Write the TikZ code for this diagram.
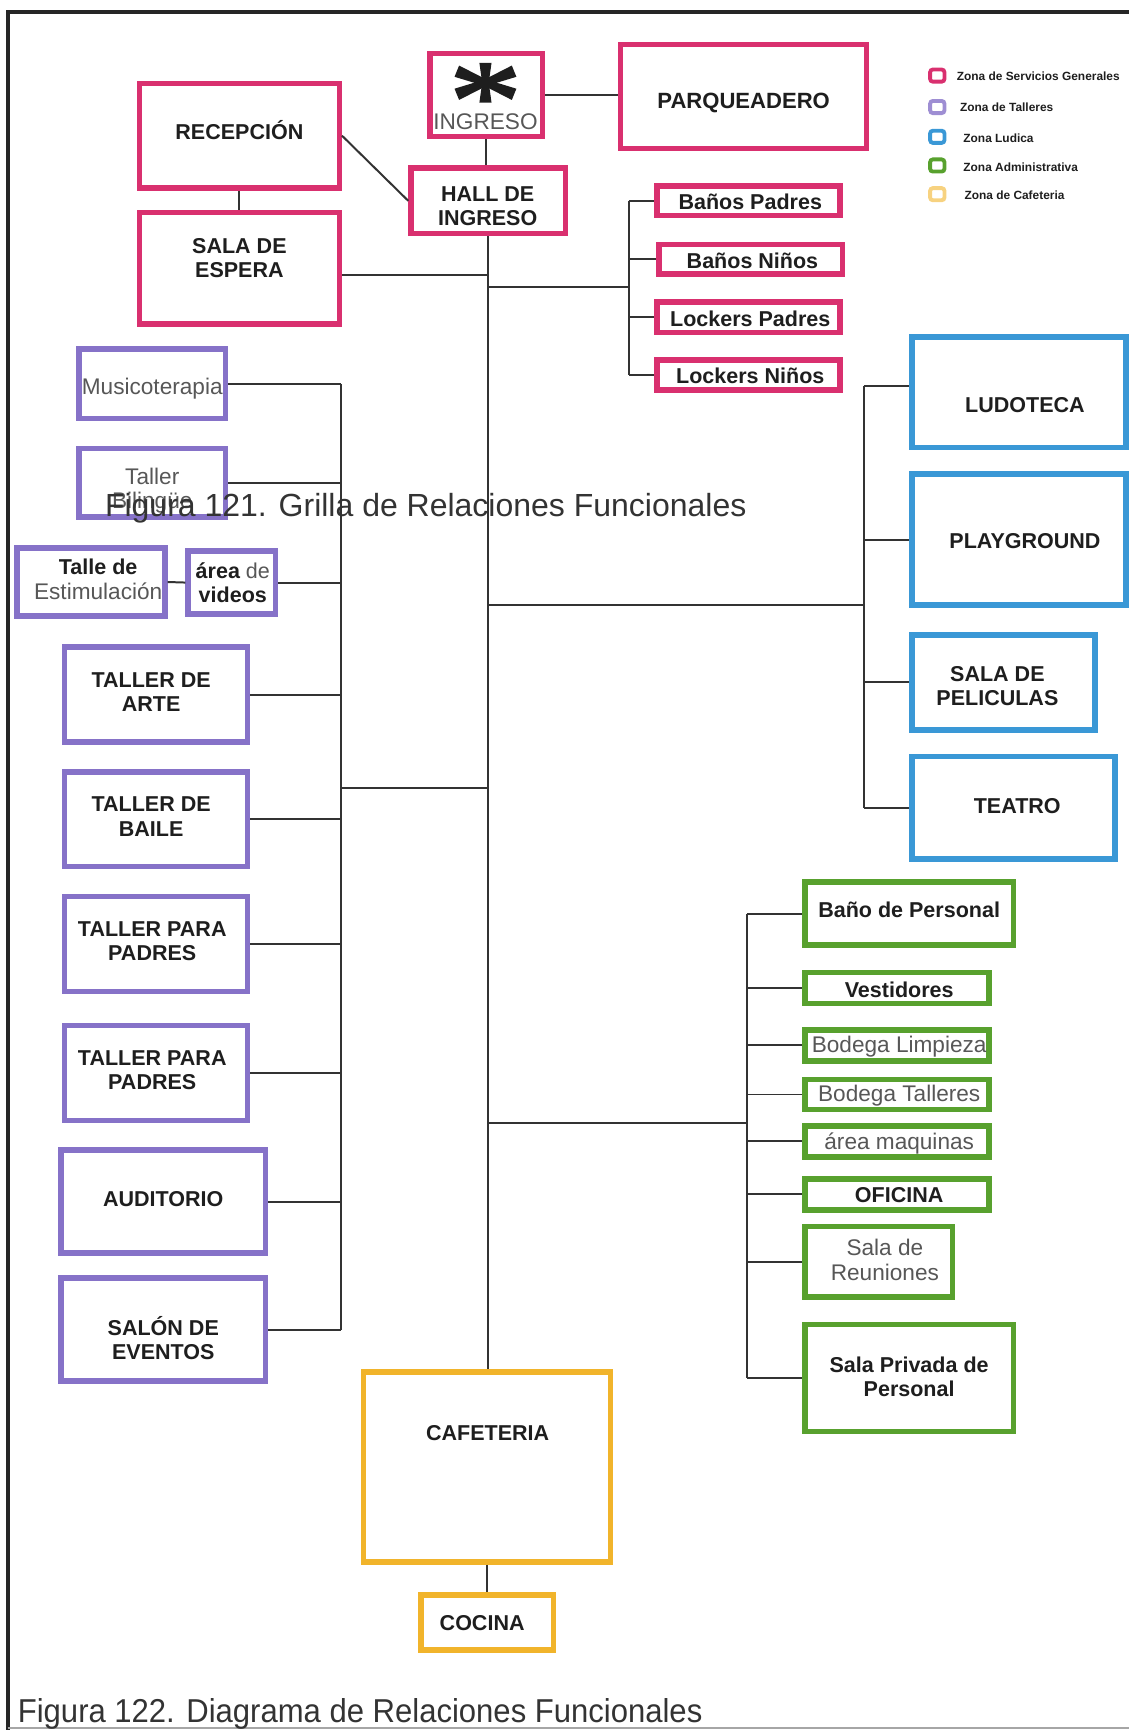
\documentclass[tikz,border=0pt]{standalone}
\usepackage{fontspec}
\setmainfont{Liberation Sans}
\usetikzlibrary{calc}
\definecolor{zpink}{HTML}{D9306F}
\definecolor{zpurple}{HTML}{8672C8}
\definecolor{zblue}{HTML}{3A98D6}
\definecolor{zgreen}{HTML}{58A12E}
\definecolor{zyellow}{HTML}{F1B42B}
\definecolor{conn}{HTML}{333333}
\definecolor{framec}{HTML}{262626}
\definecolor{txtdark}{HTML}{1E1E1E}
\definecolor{txtgray}{HTML}{575757}
\tikzset{
  zb/.style={draw=#1, line width=5pt, outer sep=2.5pt, inner sep=0pt, rectangle},
  cn/.style={draw=conn, line width=1.8pt},
  tb/.style={font=\fontsize{19.5}{22}\selectfont\bfseries, text=txtdark, align=center, inner sep=0pt},
  tg/.style={font=\fontsize{20.5}{22}\selectfont, text=txtgray, align=center, inner sep=0pt},
  lg/.style={draw=#1, line width=3.5pt, rounded corners=2.5pt, minimum width=13pt, minimum height=11pt, inner sep=0pt, outer sep=0pt},
  lt/.style={font=\fontsize{10.8}{12}\selectfont\bfseries, text=txtdark, anchor=west, inner sep=0pt},
  capt/.style={font=\fontsize{29}{32}\selectfont, text=conn, inner sep=0pt},
}
\newcommand{\zonebox}[6]{\node[zb=#1, anchor=north west, minimum width={#5-#3-5}, minimum height={#6-#4-5}] (#2) at (#3,#4) {};}
\begin{document}
\begin{tikzpicture}[x=1pt,y=-1pt]
\useasboundingbox (0,0) rectangle (1023,1568);
% frame
\draw[framec, line width=3.5pt] (7,1568) -- (7,11) -- (1023,11);
\draw[gray!70, line width=1.5pt] (7,1566) -- (1023,1566);

% pink zone
\zonebox{zpink}{ingreso}{387}{46}{494}{126}
\zonebox{zpink}{parq}{560}{38}{788}{137}
\zonebox{zpink}{recep}{124}{73}{310}{173}
\zonebox{zpink}{espera}{124}{190}{310}{296}
\zonebox{zpink}{hall}{370}{150}{515}{214}
\zonebox{zpink}{banp}{593}{166}{764}{198}
\zonebox{zpink}{bann}{595}{219}{766}{251}
\zonebox{zpink}{lockp}{593}{271}{764}{304}
\zonebox{zpink}{lockn}{593}{324}{764}{356}
% purple zone
\zonebox{zpurple}{musi}{69}{314}{207}{382}
\zonebox{zpurple}{bili}{69}{404}{207}{471}
\zonebox{zpurple}{estim}{13}{494}{152}{561}
\zonebox{zpurple}{video}{168}{497}{252}{559}
\zonebox{zpurple}{arte}{56}{584}{227}{675}
\zonebox{zpurple}{baile}{56}{697}{227}{788}
\zonebox{zpurple}{padrA}{56}{810}{227}{901}
\zonebox{zpurple}{padrB}{56}{927}{227}{1018}
\zonebox{zpurple}{audi}{53}{1040}{243}{1138}
\zonebox{zpurple}{salon}{53}{1156}{243}{1254}
% blue zone
\zonebox{zblue}{ludo}{824}{303}{1023}{408}
\zonebox{zblue}{play}{824}{427}{1023}{551}
\zonebox{zblue}{pelic}{824}{573}{995}{664}
\zonebox{zblue}{teatro}{824}{683}{1013}{781}
% green zone
\zonebox{zgreen}{banop}{727}{797}{921}{859}
\zonebox{zgreen}{vest}{727}{879}{899}{912}
\zonebox{zgreen}{bodl}{727}{931}{899}{964}
\zonebox{zgreen}{bodt}{727}{976}{899}{1008}
\zonebox{zgreen}{maq}{727}{1018}{899}{1051}
\zonebox{zgreen}{ofi}{727}{1066}{899}{1099}
\zonebox{zgreen}{reun}{727}{1109}{866}{1178}
\zonebox{zgreen}{priv}{727}{1198}{921}{1300}
% yellow zone
\zonebox{zyellow}{cafe}{327}{1241}{556}{1418}
\zonebox{zyellow}{cocina}{379}{1443}{504}{1498}

% asterisk
\begin{scope}[shift={(440,75)}]
  \foreach \a/\l in {90/18,-90/18,22/28,158/28,-22/28,-158/28}
    \fill[txtdark, rotate=\a] (0,-3) -- (\l,-5.5) -- (\l,5.5) -- (0,3) -- cycle;
  \fill[txtdark] (0,0) circle (5);
\end{scope}

% texts
\node[tg] (t-ingreso) at (440,110) {INGRESO};
\node[tb, font=\fontsize{20}{22}\selectfont\bfseries] (t-parq) at (674,93) {PARQUEADERO};
\node[tb] (t-recep) at (217,118) {RECEPCIÓN};
\node[tb] (t-espera) at (217,234) {SALA DE\\ESPERA};
\node[tb] (t-hall) at (442,187) {HALL DE\\INGRESO};
\node[tb] (t-banp) at (680,183) {Baños Padres};
\node[tb] (t-bann) at (682,236) {Baños Niños};
\node[tb] (t-lockp) at (680,289) {Lockers Padres};
\node[tb] (t-lockn) at (680,341) {Lockers Niños};

\node[tg] (t-musi) at (138,352) {Musicoterapia};
\node[tg] (t-bili) at (138,445) {Taller\\Bilingüe};
\node[tb] (t-estim) at (89,525) {Talle de\\{\fontsize{20.5}{22}\selectfont\mdseries\color{txtgray}Estimulación}};
\node[tb] (t-video) at (211,528) {área {\mdseries\color{txtgray}de}\\videos};
\node[tb] (t-arte) at (137,627) {TALLER DE\\ARTE};
\node[tb] (t-baile) at (137,740) {TALLER DE\\BAILE};
\node[tb] (t-padrA) at (138,853) {TALLER PARA\\PADRES};
\node[tb] (t-padrB) at (138,970) {TALLER PARA\\PADRES};
\node[tb] (t-audi) at (148,1087) {AUDITORIO};
\node[tb] (t-salon) at (148,1213) {SALÓN DE\\EVENTOS};

\node[tb] (t-ludo) at (929,367) {LUDOTECA};
\node[tb] (t-play) at (929,490) {PLAYGROUND};
\node[tb] (t-pelic) at (904,622) {SALA DE\\PELICULAS};
\node[tb] (t-teatro) at (922,731) {TEATRO};

\node[tb] (t-banop) at (824,825) {Baño de Personal};
\node[tb] (t-vest) at (815,897) {Vestidores};
\node[tg] (t-bodl) at (815,949) {Bodega Limpieza};
\node[tg] (t-bodt) at (815,993) {Bodega Talleres};
\node[tg] (t-maq) at (815,1036) {área maquinas};
\node[tb] (t-ofi) at (815,1083) {OFICINA};
\node[tg] (t-reun) at (802,1142) {Sala de\\Reuniones};
\node[tb] (t-priv) at (824,1248) {Sala Privada de\\Personal};

\node[tb] (t-cafe) at (442,1299) {CAFETERIA};
\node[tb] (t-cocina) at (437,1471) {COCINA};

% connectors
\draw[cn] (ingreso.east) -- (ingreso.east -| parq.west);
\draw[cn] (ingreso.south) -- (ingreso.south |- hall.north);
\draw[cn] (recep.east) -- (hall.west);
\draw[cn] (recep.south) -- (espera.north);
\draw[cn] (hall.south) -- (hall.south |- cafe.north);
\draw[cn] (cafe.south) -- (cocina.north);

\coordinate (jEsp) at (442.5,249);
\draw[cn] (espera.east |- jEsp) -- (jEsp);

\coordinate (jBan) at (442.5,260);
\coordinate (busBan) at (570,260);
\draw[cn] (jBan) -- (busBan);
\draw[cn] (banp.west -| busBan) -- (lockn.west -| busBan);
\foreach \n in {banp,bann,lockp,lockn} \draw[cn] (\n.west -| busBan) -- (\n.west);

\coordinate (jLeft) at (442.5,714);
\coordinate (busL) at (309,714);
\draw[cn] (jLeft) -- (busL);
\draw[cn] (musi.east -| busL) -- (salon.east -| busL);
\foreach \n in {musi,bili,video,arte,baile,padrA,padrB,audi,salon} \draw[cn] (\n.east) -- (\n.east -| busL);
\draw[cn] (estim.east) -- (video.west);

\coordinate (jBlue) at (442.5,548);
\coordinate (busB) at (783,548);
\coordinate (ludoT) at (783,350);
\draw[cn] (jBlue) -- (busB);
\draw[cn] (ludoT) -- (teatro.west -| busB);
\draw[cn] (ludoT) -- (ludoT -| ludo.west);
\foreach \n in {play,pelic,teatro} \draw[cn] (\n.west -| busB) -- (\n.west);

\coordinate (jGreen) at (442.5,1018);
\coordinate (busG) at (677,1018);
\draw[cn] (jGreen) -- (busG);
\draw[cn] (banop.west -| busG) -- (priv.west -| busG);
\foreach \n in {banop,vest,bodl,bodt,maq,ofi,reun,priv} \draw[cn] (\n.west -| busG) -- (\n.west);

% legend
\node[lg=zpink] (lg1) at (849.5,68.5) {};
\node[lg=zpurple!80] (lg2) at (849.5,97) {};
\node[lg=zblue] (lg3) at (849.5,124) {};
\node[lg=zgreen] (lg4) at (849.5,150) {};
\node[lg=zyellow!60] (lg5) at (849.5,176) {};
\node[lt] (lt1) at (867,69) {Zona de Servicios Generales};
\node[lt] (lt2) at (870,97) {Zona de Talleres};
\node[lt] (lt3) at (873,125) {Zona Ludica};
\node[lt] (lt4) at (873,152) {Zona Administrativa};
\node[lt] (lt5) at (874,177) {Zona de Cafeteria};

% captions
\node[capt, anchor=base west] (cap121) at (95,468) {Figura 121. Grilla de Relaciones Funcionales};
\node[capt, anchor=base west, font=\fontsize{30}{32}\selectfont] (cap122) at (16,1561) {\scalebox{0.938}[1]{Figura 122. Diagrama de Relaciones Funcionales}};
\end{tikzpicture}
\end{document}
